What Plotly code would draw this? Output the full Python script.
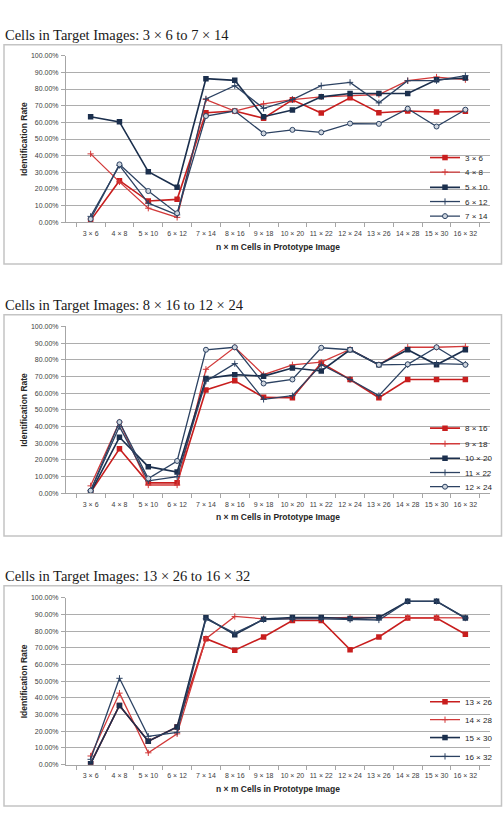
import plotly.graph_objects as go

W, H = 504, 815

categories = ["3 × 6", "4 × 8", "5 × 10", "6 × 12", "7 × 14", "8 × 16", "9 × 18",
              "10 × 20", "11 × 22", "12 × 24", "13 × 26", "14 × 28", "15 × 30", "16 × 32"]

# Panel 1 (percent)
s3x6 = [1.2, 25.0, 12.8, 13.8, 65.8, 66.8, 62.5, 73.5, 65.6, 74.7, 65.8, 66.8, 66.2, 66.6]
s4x8 = [41.1, 24.3, 8.5, 3.0, 73.7, 66.8, 71.1, 73.7, 75.3, 76.0, 76.7, 85.0, 87.2, 85.6]
s5x10 = [63.4, 60.3, 30.4, 21.1, 86.2, 85.2, 63.4, 67.4, 75.3, 77.3, 77.3, 77.3, 85.6, 86.6]
s6x12 = [3.6, 34.2, 11.5, 4.5, 74.1, 82.0, 68.4, 73.7, 82.0, 84.0, 71.7, 85.0, 85.0, 88.0]
s7x14 = [2.0, 34.8, 18.8, 5.5, 63.8, 66.8, 53.4, 55.5, 54.0, 59.3, 59.1, 68.2, 57.5, 67.6]

# Panel 2
s8x16 = [0.6, 26.7, 6.3, 6.3, 61.9, 67.4, 57.5, 57.3, 78.0, 68.2, 57.3, 68.2, 68.2, 68.2]
s9x18 = [4.5, 42.7, 5.0, 5.0, 74.3, 87.5, 71.1, 77.0, 78.6, 86.2, 77.0, 87.5, 87.5, 88.0]
s10x20 = [0.6, 33.6, 16.0, 12.8, 68.8, 71.1, 70.2, 75.1, 73.3, 86.0, 77.0, 86.0, 77.0, 86.0]
s11x22 = [1.6, 40.0, 7.5, 10.0, 67.2, 77.7, 56.3, 58.5, 77.0, 68.2, 58.5, 77.0, 77.7, 77.3]
s12x24 = [1.6, 42.7, 8.9, 19.4, 86.0, 87.5, 65.8, 68.2, 87.2, 86.0, 77.0, 77.3, 87.5, 77.0]

# Panel 3
s13x26 = [0.6, 35.5, 14.0, 22.6, 75.6, 68.7, 76.6, 86.5, 86.5, 69.0, 76.6, 88.0, 88.0, 78.2]
s14x28 = [5.2, 42.9, 7.1, 18.5, 75.6, 88.9, 87.5, 87.5, 87.9, 88.3, 88.3, 88.3, 88.3, 88.0]
s15x30 = [0.6, 35.5, 14.0, 22.6, 88.1, 78.0, 87.3, 88.3, 88.3, 87.7, 88.3, 98.0, 98.0, 88.0]
s16x32 = [3.2, 51.8, 17.0, 19.4, 87.5, 79.0, 87.0, 87.5, 87.5, 87.0, 86.8, 98.0, 98.0, 88.0]

panel_titles = ["Cells in Target Images: 3 × 6 to 7 × 14",
                "Cells in Target Images: 8 × 16 to 12 × 24",
                "Cells in Target Images: 13 × 26 to 16 × 32"]
x_title = "n × m Cells in Prototype Image"
y_title = "Identification Rate"

RED = "#c81e1e"
RED2 = "#d23a3a"
DARK = "#1b2f4d"
DARK2 = "#2c4262"

styles = {
    "red_sq": dict(line=dict(color=RED, width=1.6),
                   marker=dict(symbol="square", size=5.5, color=RED)),
    "red_plus": dict(line=dict(color=RED2, width=1.3),
                     marker=dict(symbol="cross-thin", size=4.5, color=RED2,
                                 line=dict(color=RED2, width=1))),
    "dark_sq": dict(line=dict(color=DARK, width=1.6),
                    marker=dict(symbol="square", size=5.5, color=DARK)),
    "dark_plus": dict(line=dict(color=DARK2, width=1.3),
                      marker=dict(symbol="cross-thin", size=4.5, color=DARK2,
                                  line=dict(color=DARK2, width=1))),
    "dark_circ": dict(line=dict(color=DARK2, width=1.3),
                      marker=dict(symbol="circle", size=5, color="#cfd6df",
                                  line=dict(color=DARK2, width=1))),
}

panels = [
    dict(series=[("3 × 6", s3x6, "red_sq"), ("4 × 8", s4x8, "red_plus"),
                 ("5 × 10", s5x10, "dark_sq"), ("6 × 12", s6x12, "dark_plus"),
                 ("7 × 14", s7x14, "dark_circ")],
         frame=(42, 263), plot=(53, 221), title_y=32, xt_y=245.7,
         leg_y=[155.7, 170.3, 185.7, 200, 214.7]),
    dict(series=[("8 × 16", s8x16, "red_sq"), ("9 × 18", s9x18, "red_plus"),
                 ("10 × 20", s10x20, "dark_sq"), ("11 × 22", s11x22, "dark_plus"),
                 ("12 × 24", s12x24, "dark_circ")],
         frame=(314, 537), plot=(325.7, 494), title_y=304, xt_y=518,
         leg_y=[428.3, 444, 458.7, 473, 487.3]),
    dict(series=[("13 × 26", s13x26, "red_sq"), ("14 × 28", s14x28, "red_plus"),
                 ("15 × 30", s15x30, "dark_sq"), ("16 × 32", s16x32, "dark_plus")],
         frame=(587, 809), plot=(599.3, 767.3), title_y=577, xt_y=791.7,
         leg_y=[704, 722, 740, 759]),
]

PX0, PX1 = 66, 490


def fx(x):
    return x / W


def fy(y):
    return 1 - y / H


fig = go.Figure()
layout = {}
annotations = []
shapes = []
tick_font = dict(family="Liberation Sans, Arial, sans-serif", size=7, color="#404040")
leg_n = 0
for i, p in enumerate(panels):
    sfx = "" if i == 0 else str(i + 1)
    xa, ya = "x" + sfx, "y" + sfx
    for name, vals, st in p["series"]:
        leg_n += 1
        lname = "legend" if leg_n == 1 else f"legend{leg_n}"
        fig.add_trace(go.Scatter(
            x=categories, y=[v / 100 for v in vals], name=name, mode="lines+markers",
            xaxis=xa, yaxis=ya, legend=lname, **styles[st]))
    for k, ly in enumerate(p["leg_y"]):
        n = leg_n - len(p["leg_y"]) + 1 + k
        lname = "legend" if n == 1 else f"legend{n}"
        layout[lname] = dict(x=fx(425), y=fy(ly), xanchor="left", yanchor="middle",
                             bgcolor="rgba(0,0,0,0)", borderwidth=0, itemwidth=30,
                             font=dict(family="Liberation Sans, Arial, sans-serif",
                                       size=8, color="#262626"))
    top, bot = p["plot"]
    layout["xaxis" + sfx] = dict(
        domain=[fx(PX0), fx(PX1)], anchor=ya, type="category", categoryorder="array",
        categoryarray=categories, showline=True, linecolor="#a6a6a6", linewidth=1,
        ticks="outside", tickson="boundaries", ticklen=4, tickcolor="#a6a6a6",
        tickangle=0, ticklabelstandoff=4, tickfont=tick_font, showgrid=False,
        zeroline=False, fixedrange=True)
    layout["yaxis" + sfx] = dict(
        domain=[fy(bot), fy(top)], anchor=xa, range=[0, 1.0005], dtick=0.1, tick0=0,
        tickformat=".2%", showgrid=True, gridcolor="#adadad", gridwidth=1,
        showline=True, linecolor="#a6a6a6", linewidth=1, ticks="outside", ticklen=4,
        ticklabelstandoff=1, tickcolor="#a6a6a6", tickfont=tick_font, zeroline=False,
        fixedrange=True)
    f0, f1 = p["frame"]
    shapes.append(dict(type="rect", xref="paper", yref="paper", x0=fx(4), x1=fx(501.5),
                       y0=fy(f1), y1=fy(f0), line=dict(color="#c4c4c4", width=1.5),
                       fillcolor="rgba(0,0,0,0)", layer="below"))
    annotations.append(dict(text=panel_titles[i], xref="paper", yref="paper", x=fx(3),
                            y=fy(p["title_y"]), xanchor="left", yanchor="middle",
                            showarrow=False,
                            font=dict(family="Liberation Serif, Times New Roman, serif",
                                      size=14.5, color="#1a1a1a")))
    annotations.append(dict(text="<b>" + x_title + "</b>", xref="paper", yref="paper",
                            x=fx((PX0 + PX1) / 2), y=fy(p["xt_y"]), xanchor="center",
                            yanchor="middle", showarrow=False,
                            font=dict(family="Liberation Sans, Arial, sans-serif",
                                      size=8.5, color="#262626")))
    annotations.append(dict(text="<b>" + y_title + "</b>", xref="paper", yref="paper",
                            x=fx(24), y=fy((top + bot) / 2), xanchor="center",
                            yanchor="middle", textangle=-90, showarrow=False,
                            font=dict(family="Liberation Sans, Arial, sans-serif",
                                      size=8.5, color="#262626")))

fig.update_layout(width=W, height=H, margin=dict(l=0, r=0, t=0, b=0),
                  paper_bgcolor="white", plot_bgcolor="white", showlegend=True,
                  annotations=annotations, shapes=shapes, **layout)

fig.write_html("out.html")
